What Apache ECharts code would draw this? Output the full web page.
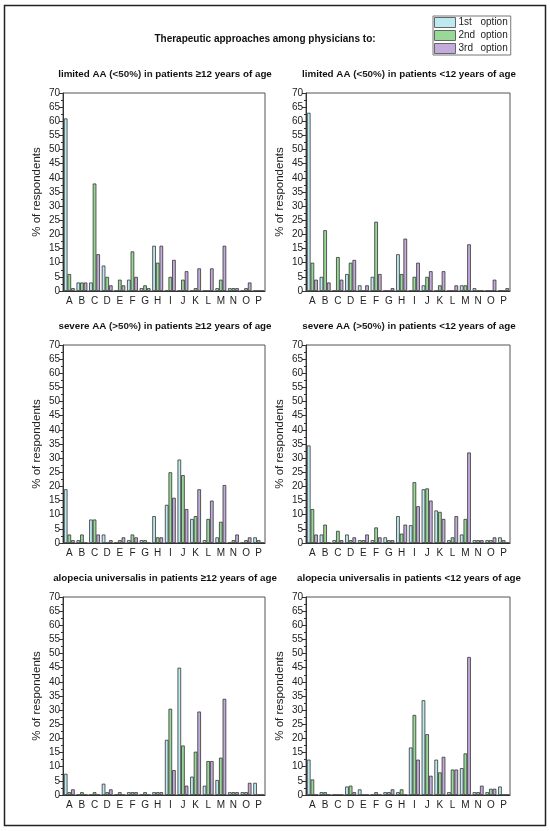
<!DOCTYPE html>
<html>
<head>
<meta charset="utf-8">
<script src="https://cdn.jsdelivr.net/npm/echarts@6/dist/echarts.min.js"></script>
<style>
  html, body { margin: 0; padding: 0; background: #fff; }
  #chart { width: 550px; height: 831px; }
</style>
</head>
<body>
<div id="chart"></div>
<script>
// categories of therapeutic approaches
var categories = ['A','B','C','D','E','F','G','H','I','J','K','L','M','N','O','P'];
var yTicks = [0, 70, 5];   // min, max, step

// limited AA, patients >=12
var limitedAdult1 = [61, 3, 3, 9, 0, 4, 1, 16, 0, 0, 0, 0, 1, 1, 0, 0];
var limitedAdult2 = [6, 3, 38, 5, 4, 14, 2, 10, 5, 4, 1, 0, 4, 1, 1, 0];
var limitedAdult3 = [1, 3, 13, 2, 2, 5, 1, 16, 11, 7, 8, 8, 16, 1, 3, 0];
// limited AA, patients <12
var limitedChild1 = [63, 5, 0, 6, 2, 5, 0, 13, 0, 2, 0, 0, 2, 1, 0, 0];
var limitedChild2 = [10, 21.5, 12, 10, 0, 24.5, 0, 6, 5, 5, 2, 0, 2, 0, 0, 0];
var limitedChild3 = [4, 3, 4, 11, 2, 6, 1, 18.5, 10, 7, 7, 2, 16.5, 0, 4, 1];
// severe AA, patients >=12
var severeAdult1 = [19, 1, 8.3, 3, 0, 1, 1, 9.5, 13.5, 29.5, 8.5, 1, 2, 0, 0, 2];
var severeAdult2 = [3, 3, 8.3, 0, 1, 3, 1, 2, 25, 24, 9.5, 8.5, 7.5, 1, 1, 1];
var severeAdult3 = [1, 0, 3, 1, 2, 2, 0, 2, 16, 12, 19, 15, 20.5, 3, 2, 0];
// severe AA, patients <12
var severeChild1 = [34.5, 3, 1, 3, 1, 1, 2, 9.5, 6.3, 19, 11.5, 1, 3, 1, 1, 2];
var severeChild2 = [12, 6.5, 4.3, 1, 1, 5.5, 1, 3.3, 21.5, 19.3, 11, 2, 8.5, 1, 1, 1];
var severeChild3 = [3, 0, 1, 2, 3, 2, 1, 6.5, 13, 15, 8.5, 9.5, 32, 1, 2, 0];
// alopecia universalis, patients >=12
var universAdult1 = [7.5, 0, 0, 4, 0, 1, 0, 1, 19.5, 45, 6.5, 3.3, 5.3, 1, 1, 4.3];
var universAdult2 = [1, 1, 1, 1, 1, 1, 1, 1, 30.5, 17.5, 15.3, 12, 13.2, 1, 1, 0];
var universAdult3 = [2, 0, 0, 2, 0, 1, 0, 1, 8.8, 3.3, 29.5, 12, 34, 1, 4.3, 0];
// alopecia universalis, patients <12
var universChild1 = [12.5, 1, 0, 3, 2, 0, 1, 1, 16.8, 33.5, 12.5, 1, 9.5, 1, 1, 3];
var universChild2 = [5.5, 1, 0, 3.3, 0, 1, 1, 2, 28.3, 21.5, 8, 9, 14.7, 1, 2.2, 0];
var universChild3 = [0, 0, 0, 1, 0, 0, 2, 0, 12.5, 6.8, 13.5, 9, 48.8, 3.3, 2.2, 0];

var optionNames = ['1st option', '2nd option', '3rd option'];
var colors = ['#bdeaf0', '#98d997', '#c3acdc'];

var panels = [
    {head: 'limited AA', range: ' (<50%) in ', age: 'patients \u226512 years of age', data: [limitedAdult1, limitedAdult2, limitedAdult3]},
    {head: 'limited AA', range: ' (<50%) in ', age: 'patients <12 years of age', data: [limitedChild1, limitedChild2, limitedChild3]},
    {head: 'severe AA', range: ' (>50%) in ', age: 'patients \u226512 years of age', data: [severeAdult1, severeAdult2, severeAdult3]},
    {head: 'severe AA', range: ' (>50%) in ', age: 'patients <12 years of age', data: [severeChild1, severeChild2, severeChild3]},
    {head: 'alopecia universalis', range: ' in ', age: 'patients \u226512 years of age', data: [universAdult1, universAdult2, universAdult3]},
    {head: 'alopecia universalis', range: ' in ', age: 'patients <12 years of age', data: [universChild1, universChild2, universChild3]}
];

var font = 'Liberation Sans, Arial, sans-serif';
var gridLeft = [63, 306];
var gridWidth = [202, 204];
var gridTop = [93, 345, 597];
var gridHeight = 198;
var titleCenter = [160, 404];

var grids = [], xAxes = [], yAxes = [], series = [], titles = [];

// 总标题
titles.push({
    text: 'Therapeutic approaches among physicians to:',
    left: 260, top: 29.5, textAlign: 'center',
    textStyle: {fontFamily: font, fontSize: 10, fontWeight: 'bold', color: '#111'}
});

for (var p = 0; p < panels.length; p++) {
    var col = p % 2, row = Math.floor(p / 2);
    grids.push({
        left: gridLeft[col], top: gridTop[row], width: gridWidth[col], height: gridHeight,
        show: true, borderColor: '#555', borderWidth: 1
    });
    titles.push({
        text: '{b|' + panels[p].head + '}{n|' + panels[p].range + '}{b|' + panels[p].age + '}',
        left: titleCenter[col], top: gridTop[row] - 29, textAlign: 'center',
        textStyle: {
            rich: {
                b: {fontFamily: font, fontSize: 9.8, fontWeight: 'bold', color: '#111'},
                n: {fontFamily: font, fontSize: 9.8, color: '#222'}
            }
        }
    });
    xAxes.push({
        type: 'category', gridIndex: p, data: categories,
        axisLine: {lineStyle: {color: '#333'}},
        axisTick: {alignWithLabel: true, length: 4, lineStyle: {color: '#333'}},
        axisLabel: {fontFamily: font, fontSize: 10, color: '#222', margin: 5, interval: 0}
    });
    yAxes.push({
        type: 'value', gridIndex: p, min: yTicks[0], max: yTicks[1], interval: yTicks[2],
        name: '% of respondents', nameLocation: 'middle', nameGap: 20,
        nameTextStyle: {fontFamily: font, fontSize: 11.5, color: '#222'},
        axisLine: {show: true, lineStyle: {color: '#333'}},
        axisTick: {show: true, length: 4, lineStyle: {color: '#333'}},
        minorTick: {show: true, splitNumber: 2, length: 2, lineStyle: {color: '#333'}},
        splitLine: {show: false},
        axisLabel: {fontFamily: font, fontSize: 10, color: '#222', margin: 3}
    });
    for (var s = 0; s < 3; s++) {
        series.push({
            name: optionNames[s], type: 'bar', xAxisIndex: p, yAxisIndex: p,
            data: panels[p].data[s],
            barGap: '0%', barCategoryGap: '14%',
            itemStyle: {color: colors[s], borderColor: '#333', borderWidth: 0.8},
            silent: true
        });
    }
}

var chart = echarts.init(document.getElementById('chart'));
chart.setOption({
    animation: false,
    backgroundColor: '#fff',
    title: titles,
    legend: {
        data: optionNames, orient: 'vertical', left: 433, top: 16,
        icon: 'rect', itemWidth: 21, itemHeight: 10, itemGap: 2,
        itemStyle: {borderColor: '#666', borderWidth: 1},
        padding: [1, 3, 1, 1], borderColor: '#777', borderWidth: 1,
        formatter: function (name) {
            var parts = name.split(' ');
            return '{a|' + parts[0] + '}{o|' + parts[1] + '}';
        },
        textStyle: {
            padding: [0, 0, 0, -2],
            rich: {
                a: {fontFamily: font, fontSize: 10, color: '#222', width: 22},
                o: {fontFamily: font, fontSize: 10, color: '#222'}
            }
        }
    },
    grid: grids,
    xAxis: xAxes,
    yAxis: yAxes,
    series: series,
    graphic: [{
        type: 'rect', shape: {x: 4.5, y: 5.5, width: 541, height: 820},
        style: {fill: 'none', stroke: '#222', lineWidth: 1.5}, silent: true
    }]
});
</script>
</body>
</html>
